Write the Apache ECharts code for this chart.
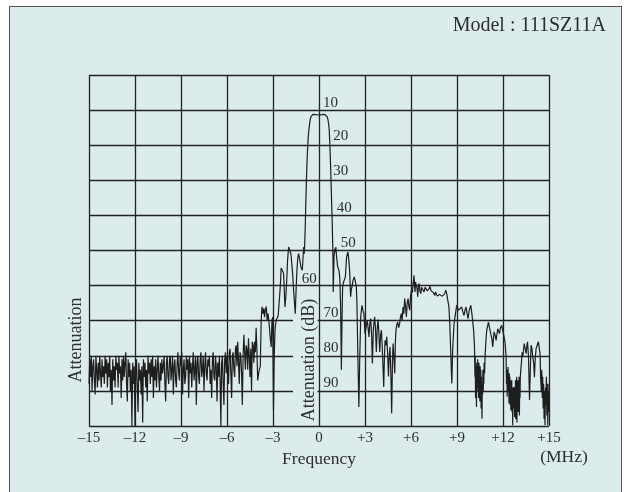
<!DOCTYPE html>
<html><head><meta charset="utf-8">
<script src="https://cdn.jsdelivr.net/npm/echarts@6/dist/echarts.min.js"></script>
<style>
html,body{margin:0;padding:0;background:#fff;}
#wrap{position:relative;width:625px;height:492px;overflow:hidden;}
#frame{position:absolute;left:9px;top:6px;width:613px;height:500px;border:1.5px solid #555;background:#dcebeb;box-sizing:border-box;}
#chart{position:absolute;left:0;top:0;width:625px;height:492px;}
</style></head><body>
<div id="wrap"><div id="frame"></div><div id="chart"></div></div>
<script>
// ---- data (frequency MHz, attenuation dB) ----
const leftNoise = [
[-15.00,88],[-14.95,81],[-14.90,86],[-14.85,80],[-14.80,90],[-14.75,83],[-14.70,81],[-14.65,87],[-14.60,91],[-14.55,80],
[-14.50,84],[-14.45,89],[-14.40,82],[-14.35,87],[-14.30,80],[-14.25,85],[-14.20,89],[-14.15,81],[-14.10,86],[-14.05,83],
[-14.00,88],[-13.95,80],[-13.90,85],[-13.85,81],[-13.80,89],[-13.75,82],[-13.70,86],[-13.65,80],[-13.60,90],[-13.55,84],
[-13.50,94],[-13.45,81],[-13.40,87],[-13.35,83],[-13.30,89],[-13.25,80],[-13.20,84],[-13.15,82],[-13.10,89],[-13.05,80],
[-13.00,85],[-12.95,83],[-12.90,92],[-12.85,81],[-12.80,87],[-12.75,80],[-12.70,86],[-12.65,82],[-12.60,79],[-12.55,88],
[-12.50,93],[-12.45,81],[-12.40,86],[-12.35,82],[-12.30,90],[-12.25,84],[-12.20,100],[-12.15,82],[-12.10,88],[-12.05,83],
[-12.00,100],[-11.95,85],[-11.90,81],[-11.85,89],[-11.80,96],[-11.75,82],[-11.70,87],[-11.65,84],[-11.60,91],[-11.55,83],
[-11.50,99],[-11.45,81],[-11.40,86],[-11.35,82],[-11.30,89],[-11.25,84],[-11.20,93],[-11.15,80],[-11.10,85],[-11.05,82],
[-11.00,88],[-10.95,81],[-10.90,86],[-10.85,80],[-10.80,92],[-10.75,83],[-10.70,87],[-10.65,81],[-10.60,89],[-10.55,84],
[-10.50,80],[-10.45,86],[-10.40,90],[-10.35,82],[-10.30,87],[-10.25,81],[-10.20,85],[-10.15,83],[-10.10,80],[-10.05,88],
[-10.00,93],[-9.95,82],[-9.90,80],[-9.85,86],[-9.80,88],[-9.75,81],[-9.70,80],[-9.65,87],[-9.60,84],[-9.55,80],
[-9.50,91],[-9.45,83],[-9.40,81],[-9.35,87],[-9.30,89],[-9.25,82],[-9.20,79],[-9.15,85],[-9.10,87],[-9.05,80],
[-9.00,83],[-8.95,79],[-8.90,91],[-8.85,84],[-8.80,81],[-8.75,88],[-8.70,86],[-8.65,80],[-8.60,84],[-8.55,81],
[-8.50,92],[-8.45,80],[-8.40,85],[-8.35,82],[-8.30,89],[-8.25,83],[-8.20,79],[-8.15,87],[-8.10,84],[-8.05,80],
[-8.00,94],[-7.95,82],[-7.90,80],[-7.85,86],[-7.80,88],[-7.75,81],[-7.70,79],[-7.65,86],[-7.60,84],[-7.55,80],
[-7.50,90],[-7.45,83],[-7.40,79],[-7.35,85],[-7.30,87],[-7.25,81],[-7.20,83],[-7.15,80],[-7.10,88],[-7.05,84],
[-7.00,92],[-6.95,81],[-6.90,79],[-6.85,86],[-6.80,87],[-6.75,80],[-6.70,83],[-6.65,93],[-6.60,82],[-6.55,86],
[-6.50,80],[-6.45,87],[-6.40,100],[-6.35,82],[-6.30,80],[-6.25,88],[-6.20,94],[-6.15,81],[-6.10,79],[-6.05,85],
[-6.00,80],[-5.95,84],[-5.90,88],[-5.85,79],[-5.80,78],[-5.75,85],[-5.70,92],[-5.65,80],[-5.60,79],[-5.55,84],
[-5.50,86],[-5.45,78],[-5.40,77],[-5.35,83],[-5.30,76],[-5.25,82],[-5.20,88],[-5.15,79],[-5.10,80],[-5.05,85],
[-5.00,94],[-4.95,80],[-4.90,74],[-4.85,79],[-4.80,84],[-4.75,77],[-4.70,78],[-4.65,84],[-4.60,75],[-4.55,80],
[-4.50,86],[-4.45,78],[-4.40,90],[-4.35,76],[-4.30,77],[-4.25,82],[-4.20,76],[-4.15,79],[-4.10,72],[-4.05,78],[-4.00,87]
];
const leftShoulder = [
[-3.9,84],[-3.83,83],[-3.77,70],[-3.72,66],[-3.66,68],[-3.6,66.5],[-3.55,69],[-3.5,67],[-3.44,66],[-3.38,70],
[-3.32,68],[-3.25,71],[-3.18,75],[-3.12,77.5],[-3.07,70],[-3.02,69],[-2.97,95.5],[-2.92,80],[-2.87,72.7],[-2.8,70],
[-2.74,69.9],[-2.66,68.5],[-2.58,68],[-2.52,60],[-2.47,55],[-2.41,54.7],[-2.36,56],[-2.31,56.6],[-2.26,62],[-2.22,66.1],
[-2.16,63],[-2.1,58],[-2.05,52.8],[-1.98,49],[-1.94,48.5],[-1.88,49.5],[-1.83,51],[-1.77,54],[-1.72,56.6],[-1.66,61],
[-1.61,64.2],[-1.55,68],[-1.5,62],[-1.44,55.6],[-1.38,52],[-1.33,50.9],[-1.28,52],[-1.22,53.5],[-1.18,54.7],[-1.13,55],
[-1.09,55.6],[-1.04,52],[-1.0,49],[-0.96,50.9]
];
const mainLobe = [
[-0.91,45.2],[-0.89,42],[-0.87,38],[-0.85,35],[-0.82,30],[-0.79,26],[-0.76,22.5],[-0.72,19],[-0.68,16.5],[-0.63,14.5],
[-0.58,12.8],[-0.52,11.8],[-0.45,11.3],[-0.39,11.2],[-0.3,11.2],[-0.2,11.3],[0,11.4],[0.2,11.3],[0.35,11.2],[0.45,11.3],
[0.52,11.8],[0.58,12.6],[0.63,13.9],[0.67,16],[0.7,19],[0.73,22.5],[0.76,26.2],[0.79,31],[0.82,35.7],[0.85,40],
[0.87,43.3],[0.89,47.5],[0.91,51.8]
];
const rightShoulder = [
[0.93,61.8],[0.98,51.8],[1.02,49.5],[1.06,50.5],[1.1,49],[1.15,52],[1.22,54.7],[1.3,55.6],[1.36,58],[1.41,66],
[1.46,84],[1.5,70],[1.54,60.4],[1.6,59],[1.66,58.5],[1.72,57.5],[1.8,51.8],[1.89,50.4],[1.95,53],[2.0,56],
[2.06,63.2],[2.11,61],[2.15,60.4],[2.22,58.5],[2.3,57.5],[2.37,57.1],[2.43,60],[2.47,64.2],[2.54,81.3],[2.6,94.6],
[2.66,80],[2.72,69],[2.8,65.6],[2.86,67],[2.93,68],[3.0,73.7]
];
const rightBand = [
[3.04,73.7],[3.1,71],[3.15,69.9],[3.2,72],[3.26,74.6],[3.31,71],[3.37,69.4],[3.43,74],[3.48,82.2],[3.55,72],
[3.63,68.9],[3.68,72],[3.74,78.9],[3.8,72],[3.85,69.7],[3.9,73],[3.96,78.9],[4.02,74],[4.07,72.7],[4.12,77],
[4.18,84],[4.22,88.9],[4.27,80],[4.31,75.6],[4.37,77],[4.42,74.6],[4.48,80],[4.53,85.9],[4.58,80],[4.63,77.5],
[4.68,84],[4.74,96.4],[4.79,82],[4.83,76.5],[4.88,80],[4.94,85],[4.98,76],[5.02,72.7],[5.08,71],[5.13,70.4],
[5.2,72],[5.26,70.8],[5.31,69],[5.37,68],[5.42,70],[5.48,66.1],[5.53,68],[5.59,63.7],[5.64,66],[5.7,68.9],
[5.75,65],[5.81,63.7],[5.86,66],[5.92,67],[5.97,63],[6.03,61.3],[6.09,62],[6.14,59.4],[6.2,57.1],[6.23,60],
[6.26,61.8],[6.3,59],[6.35,58.5],[6.4,61],[6.44,63.2],[6.49,60],[6.53,59.4],[6.58,61.5],[6.64,62.3],[6.69,60.5],
[6.75,60],[6.8,61],[6.85,61.8],[6.92,60.5],[7.0,60.4],[7.06,61.5],[7.13,61.8],[7.19,60.8],[7.24,60.2],[7.31,61.5],
[7.39,61.3],[7.46,62],[7.55,62.8],[7.6,61.8],[7.66,62.3],[7.72,63],[7.79,63.4],[7.86,62.5],[7.94,62.3],[8.01,63],
[8.09,63.2],[8.18,62.5],[8.27,61.3],[8.34,62.5],[8.4,64.2],[8.47,66],[8.53,70.8],[8.6,80],[8.66,87.9],[8.72,78],
[8.81,70.8],[8.9,68],[8.98,65.6],[9.03,65.1],[9.1,67],[9.16,67.5],[9.23,66.5],[9.31,66.1],[9.38,67.5],[9.46,68.5],
[9.52,67],[9.59,66.1],[9.66,68],[9.72,69.4],[9.8,67],[9.9,65.6],[9.97,68],[10.03,70.4],[10.09,73],[10.14,77.5]
];
const rightTail = [
[10.17,86],[10.19,80],[10.21,92],[10.23,83],[10.25,88],[10.27,94.6],[10.29,82],[10.31,90],[10.33,85],[10.35,81],
[10.37,89],[10.39,84],[10.41,92],[10.43,82],[10.45,89.8],[10.47,85],[10.49,93],[10.51,83],[10.53,88],[10.55,84],
[10.57,95],[10.59,86],[10.61,92],[10.63,97.9],[10.65,88],[10.67,91],[10.69,84],[10.71,90],[10.73,86],[10.75,88],
[10.77,82],[10.8,85],[10.83,80.3],[10.88,76],[10.94,72.7],[11.0,71.5],[11.05,70.4],[11.12,72],[11.2,73.7],[11.27,75],
[11.33,77.5],[11.38,75],[11.42,73.2],[11.48,74],[11.55,75.6],[11.6,74],[11.66,72.3],[11.72,73],[11.77,73.7],[11.84,72],
[11.92,71.3],[11.97,72.5],[12.03,73.7],[12.09,75],[12.14,76.5],[12.2,80],[12.23,88],[12.25,84],[12.27,91.7],[12.29,85],
[12.31,89],[12.33,83.2],[12.35,90],[12.37,86],[12.39,93.6],[12.41,85],[12.43,90],[12.45,86],[12.47,94],[12.49,87],
[12.51,95.5],[12.53,88],[12.55,92],[12.57,87],[12.59,96],[12.61,89],[12.63,99.8],[12.65,90],[12.67,94],[12.69,88.9],
[12.71,95],[12.73,90],[12.75,97.4],[12.77,89],[12.79,94],[12.81,87],[12.83,98],[12.85,88],[12.87,92],[12.89,86],
[12.91,99],[12.93,88],[12.95,95],[12.97,87],[12.99,96],[13.01,89],[13.03,93],[13.05,86],[13.07,97],[13.09,88],
[13.11,92],[13.13,86.1],[13.16,84],[13.2,82],[13.25,79],[13.3,80],[13.38,76.5],[13.45,78],[13.51,79.4],[13.56,77],
[13.6,76],[13.66,80],[13.73,92.6],[13.78,84],[13.83,77],[13.89,78],[13.94,80.3],[14.0,82],[14.05,86.1],[14.1,81],
[14.16,77.9],[14.23,77],[14.31,76],[14.37,78],[14.42,79.4],[14.45,86],[14.5,90],[14.53,84],[14.56,92],[14.59,86],
[14.62,95],[14.65,88],[14.68,98],[14.71,90],[14.74,99.8],[14.77,89],[14.8,94],[14.83,86],[14.86,97],[14.89,88],
[14.92,99.8],[14.95,90],[14.98,96],[15.0,88]
];
const xTickLabels = ['\u201315','\u201312','\u20139','\u20136','\u20133','0','+3','+6','+9','+12','+15'];
const dbLabels = ['10','20','30','40','50','60','70','80','90'];
// layout: where each dB label sits (MHz, dB)
const dbLabelPos = [[0.75,7.9],[1.42,17.4],[1.42,27.4],[1.64,37.8],[1.91,47.8],[-0.63,58.2],[0.79,67.7],[0.79,77.7],[0.79,87.7]];

const curve = [].concat(leftNoise, leftShoulder, mainLobe, rightShoulder, rightBand, rightTail);
const FONT = '"Liberation Serif","Times New Roman",serif';
const TXT = '#2e2e2e';
const BG = '#dcebeb';

const chart = echarts.init(document.getElementById('chart'), null, {renderer:'canvas'});
chart.setOption({
  backgroundColor: 'transparent',
  animation: false,
  grid: {left: 89, top: 75, right: 76, bottom: 66},
  xAxis: {
    type: 'value', min: -15, max: 15, interval: 3,
    axisLine: {show: false}, axisTick: {show: false},
    splitLine: {show: true, lineStyle: {color: '#222', width: 1.3}},
    axisLabel: {fontFamily: FONT, fontSize: 15, color: TXT, margin: 5,
      formatter: v => xTickLabels[Math.round((v + 15) / 3)]},
    name: 'Frequency', nameLocation: 'middle', nameGap: 22,
    nameTextStyle: {fontFamily: FONT, fontSize: 17.5, color: TXT}
  },
  yAxis: {
    type: 'value', min: 0, max: 100, interval: 10, inverse: true,
    axisLine: {show: false}, axisTick: {show: false}, axisLabel: {show: false},
    splitLine: {show: true, lineStyle: {color: '#222', width: 1.3}}
  },
  series: [
    {type: 'line', data: curve, showSymbol: false, symbol: 'none', z: 5,
     lineStyle: {color: '#1e1e1e', width: 1.2}},
    {type: 'scatter', z: 6, symbolSize: 0, itemStyle: {opacity: 1},
     data: dbLabels.map((t, i) => ({name: t, value: dbLabelPos[i]})),
     label: {show: true, position: 'inside', formatter: '{b}', fontFamily: FONT, fontSize: 15, color: TXT}}
  ],
  graphic: [
    {type: 'rect', z: 1, shape: {x: 293, y: 293, width: 24.5, height: 132}, style: {fill: BG}},
    {type: 'text', z: 6, x: 309.5, y: 360, rotation: Math.PI / 2,
     style: {text: 'Attenuation (dB)', font: '18px ' + FONT, fill: TXT, textAlign: 'center', textVerticalAlign: 'middle'}},
    {type: 'text', z: 6, x: 76.5, y: 340, rotation: Math.PI / 2,
     style: {text: 'Attenuation', font: '18px ' + FONT, fill: TXT, textAlign: 'center', textVerticalAlign: 'middle'}},
    {type: 'text', z: 6, x: 564, y: 457,
     style: {text: '(MHz)', font: '17.5px ' + FONT, fill: TXT, textAlign: 'center', textVerticalAlign: 'middle'}},
    {type: 'text', z: 6, x: 606, y: 26,
     style: {text: 'Model : 111SZ11A', font: '20px ' + FONT, fill: TXT, textAlign: 'right', textVerticalAlign: 'middle'}}
  ]
});
</script></body></html>
